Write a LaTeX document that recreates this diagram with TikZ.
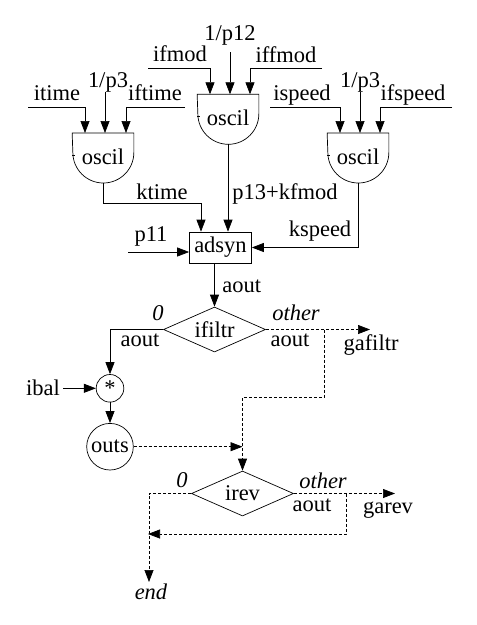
\documentclass[tikz,border=0pt]{standalone}
\usepackage{fontspec}
\setmainfont{Liberation Serif}
\usetikzlibrary{arrows.meta,shapes.geometric,calc}
\begin{document}
\begin{tikzpicture}[x=1pt,y=-1pt,
  every node/.style={font=\fontsize{22.5}{25}\selectfont},
  lbl/.style={anchor=base, inner sep=0},
  ilbl/.style={anchor=base, inner sep=0, font=\fontsize{22.5}{25}\selectfont\itshape},
  ar/.style={-{Triangle[length=12pt,width=9pt]}},
  dsh/.style={dash pattern=on 3pt off 2pt},
  line width=0.7pt,
  oscilnode/.style={minimum width=61pt, minimum height=46pt, inner sep=0, anchor=north},
  boxnode/.style={draw, minimum width=62pt, minimum height=31pt, inner sep=0},
  dia/.style={draw, diamond, aspect=2.27, inner sep=0, minimum width=102pt, minimum height=45pt},
  circ/.style={draw, circle, inner sep=0}
]
\useasboundingbox (0,0) rectangle (477,625);

% oscillators
\node[oscilnode] (o1) at (103,133) {oscil};
\node[oscilnode] (o2) at (228,94.3) {oscil};
\node[oscilnode] (o3) at (358,133) {oscil};
\foreach \o in {o1,o2,o3}{
  \draw (\o.north west) -- (\o.north east) -- ++(0,19.5) arc[start angle=0,end angle=-180,radius=30.5pt] -- cycle;
  \draw ([yshift=-22pt]\o.north west) -- ++(2.5pt,0);
  \coordinate (\o b) at ([yshift=-50pt]\o.north);
}

% labels of inputs
\node[lbl] (l-itime) at (57,100) {itime};
\node[lbl] (l-p3a) at (108,87) {1/p3};
\node[lbl] (l-iftime) at (155,100) {iftime};
\node[lbl] (l-ifmod) at (180,61.5) {ifmod};
\node[lbl] (l-p12) at (230,40) {1/p12};
\node[lbl] (l-iffmod) at (286,62) {iffmod};
\node[lbl] (l-ispeed) at (302,100) {ispeed};
\node[lbl] (l-p3b) at (360,87) {1/p3};
\node[lbl] (l-ifspeed) at (413,100) {ifspeed};

% input connector start points
\coordinate (s1) at (28,107);
\coordinate (s2) at (105,92);
\coordinate (s3) at (185,107);
\coordinate (s4) at (148,68);
\coordinate (s5) at (230,52);
\coordinate (s6) at (322,68);
\coordinate (s7) at (270,107);
\coordinate (s8) at (360,92);
\coordinate (s9) at (452,107);

\draw[ar] (s1) -| ([xshift=-18pt]o1.north);
\draw[ar] (s2) -- (s2 |- o1.north);
\draw[ar] (s3) -| ([xshift=23pt]o1.north);
\draw[ar] (s4) -| ([xshift=-18pt]o2.north);
\draw[ar] (s5) -- (s5 |- o2.north);
\draw[ar] (s6) -| ([xshift=22pt]o2.north);
\draw[ar] (s7) -| ([xshift=-18pt]o3.north);
\draw[ar] (s8) -- (s8 |- o3.north);
\draw[ar] (s9) -| ([xshift=22pt]o3.north);

% adsyn
\node[boxnode] (adsyn) at (220.5,247.5) {adsyn};
\draw[ar] (o1b) -- ++(0,20) -| ([xshift=-19.5pt]adsyn.north);
\draw[ar] (o2b) -- (o2b |- adsyn.north);
\draw[ar] (o3b) |- (adsyn.east);
\coordinate (p11s) at (128,252);
\draw[ar] (p11s) -- (p11s -| adsyn.west);
\node[lbl] (l-ktime) at (162,199) {ktime};
\node[lbl,anchor=base west] (l-p13) at (232,199) {p13+kfmod};
\node[lbl] (l-kspeed) at (320,236) {kspeed};
\node[lbl] (l-p11) at (151,241) {p11};

% ifiltr
\node[dia] (ifiltr) at (214.5,329.5) {ifiltr};
\draw[ar] (ifiltr.north |- adsyn.south) -- (ifiltr.north);
\node[lbl,anchor=base west] (l-aout1) at (222,292) {aout};
\node[ilbl] (l-zero1) at (158,320) {0};
\node[lbl] (l-aout2) at (140,346) {aout};
\node[ilbl] (l-other1) at (296,320) {other};
\node[lbl] (l-aout3) at (290,346) {aout};
\node[lbl] (l-gafiltr) at (371,350) {gafiltr};

% left branch
\node[circ,minimum size=27.6pt] (star) at (110,388.3) {*};
\node[circ,minimum size=46.6pt] (outs) at (110,446.7) {outs};
\draw[ar] (ifiltr.west) -| (star.north);
\node[lbl] (l-ibal) at (43,395) {ibal};
\coordinate (ibs) at (63,388.3);
\draw[ar] (ibs) -- (star.west);
\draw[ar] (star.south) -- (outs.north);

% right branch (dashed)
\coordinate (gfa) at (370,329.5);
\draw[dsh,ar] (ifiltr.east) -- (gfa);
\coordinate (br1) at (324,329.5);

% irev
\node[dia] (irev) at (242.5,493.5) {irev};
\draw[dsh,ar] (br1) -- ++(0,67.5) -| (irev.north);
\draw[dsh,ar] (outs.east) -- (outs.east -| irev.north);
\node[ilbl] (l-zero2) at (182,487) {0};
\node[ilbl] (l-other2) at (323,488) {other};
\node[lbl] (l-aout4) at (312,511) {aout};
\node[lbl] (l-garev) at (388,513) {garev};
\coordinate (gra) at (395,493.5);
\draw[dsh,ar] (irev.east) -- (gra);
\node[ilbl] (l-end) at (151,599) {end};
\coordinate (endtip) at (149,582);
\draw[dsh,ar] (irev.west) -| (endtip);
\coordinate (lp) at (346,493.5);
\coordinate (lpe) at (148,534);
\draw[dsh,ar] (lp) |- (lpe);
\end{tikzpicture}
\end{document}
